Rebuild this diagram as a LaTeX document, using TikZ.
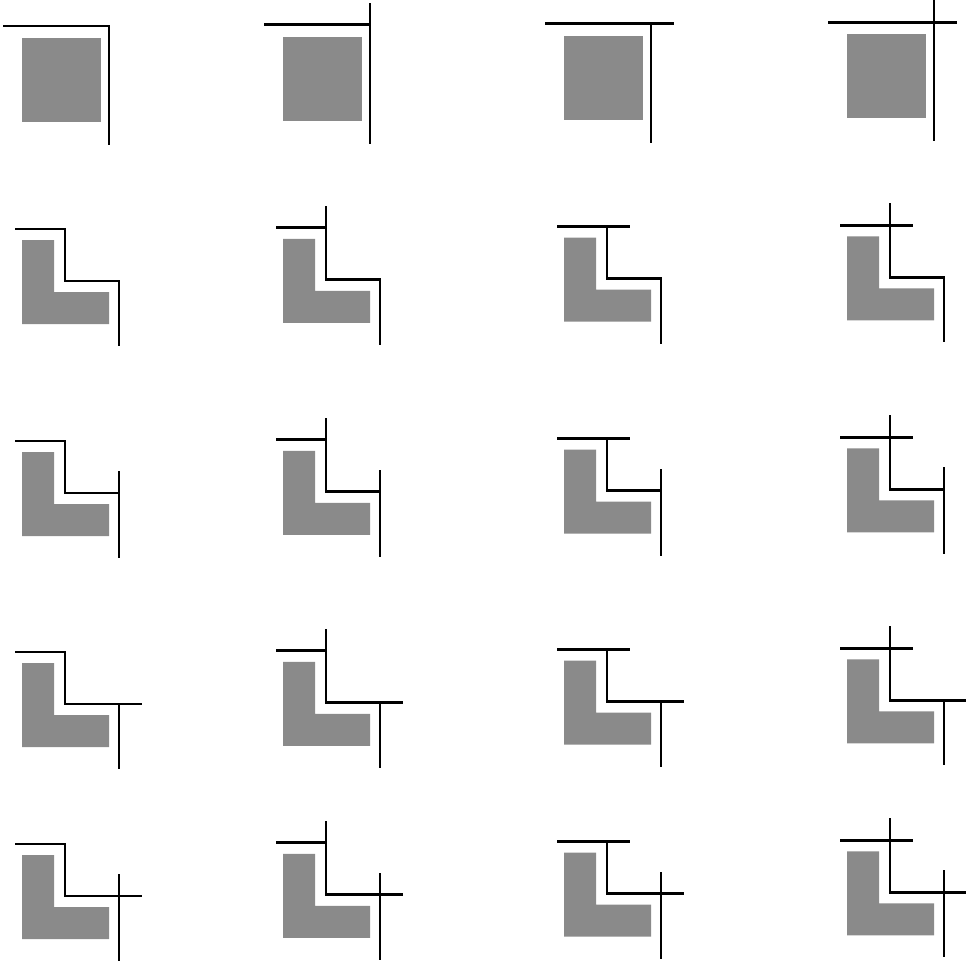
\documentclass[tikz,border=0pt]{standalone}
\begin{document}
\begin{tikzpicture}[x=1pt,y=-1pt,
  edge/.style={line width=2.9pt, line cap=butt, line join=miter},
  halftone/.style={fill=black!46}]
\useasboundingbox (0,0) rectangle (966,962);
\clip (0,0) rectangle (966,962);
\foreach \c/\ox in {1/22,2/283,3/564,4/847}{
  % row 1: square
  \pgfmathsetmacro\oy{38-1.2*(\c-1)}
  \fill[halftone] (\ox,\oy) rectangle ++(79,84);
  \draw[edge] (\ox-19,\oy-12) -- (\ox+87,\oy-12) -- (\ox+87,\oy+107);
  \ifnum\c>2 \draw[edge] (\ox+87,\oy-12) -- (\ox+110,\oy-12); \fi
  \ifodd\c\relax\else \draw[edge] (\ox+87,\oy-12) -- (\ox+87,\oy-34); \fi
  % rows 2-5: L shapes
  \foreach \r/\base in {2/240,3/452,4/663,5/855}{
    \pgfmathsetmacro\oy{\base-1.2*(\c-1)}
    \fill[halftone] (\ox,\oy) -- (\ox+32,\oy) -- (\ox+32,\oy+52) -- (\ox+87,\oy+52)
      -- (\ox+87,\oy+84) -- (\ox,\oy+84) -- cycle;
    \draw[edge] (\ox-7,\oy-11) -- (\ox+43,\oy-11) -- (\ox+43,\oy+41)
      -- (\ox+97,\oy+41) -- (\ox+97,\oy+106);
    \ifnum\c>2 \draw[edge] (\ox+43,\oy-11) -- (\ox+66,\oy-11); \fi
    \ifodd\c\relax\else \draw[edge] (\ox+43,\oy-11) -- (\ox+43,\oy-33); \fi
    \ifnum\r>3 \draw[edge] (\ox+97,\oy+41) -- (\ox+120,\oy+41); \fi
    \ifodd\r\relax \draw[edge] (\ox+97,\oy+41) -- (\ox+97,\oy+19); \fi
  }
}
\end{tikzpicture}
\end{document}
